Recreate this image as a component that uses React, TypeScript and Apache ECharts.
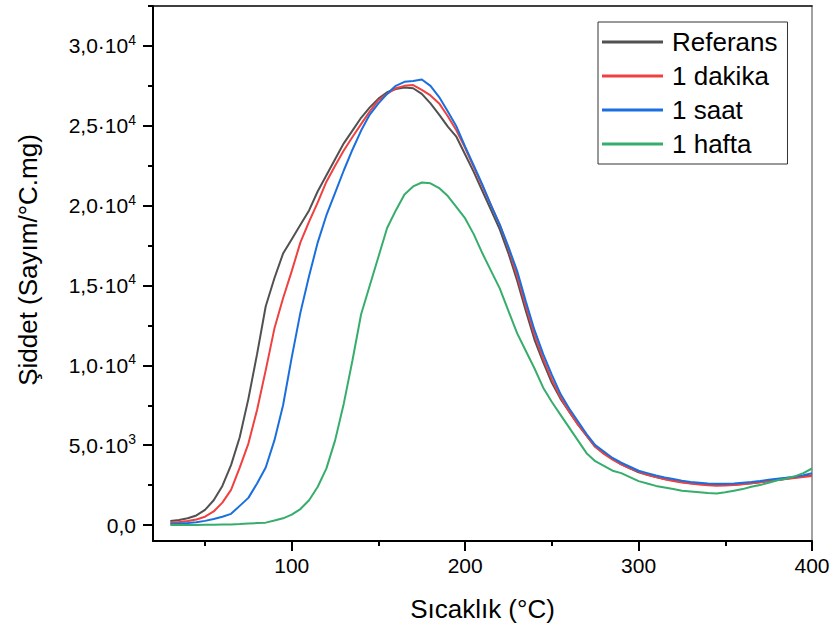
import React, { useEffect, useRef } from "react";
import * as echarts from "echarts";

const FONT = "'Liberation Sans', Arial, sans-serif";

const temperatures = [
  30, 35, 40, 45, 50, 55, 60, 65, 70, 75, 80, 85, 90, 95, 100, 105, 110, 115, 120, 125,
  130, 135, 140, 145, 150, 155, 160, 165, 170, 175, 180, 185, 190, 195, 200, 205, 210, 215, 220, 225,
  230, 235, 240, 245, 250, 255, 260, 265, 270, 275, 280, 285, 290, 295, 300, 305, 310, 315, 320, 325,
  330, 335, 340, 345, 350, 355, 360, 365, 370, 375, 380, 385, 390, 395, 400,
];

const referans = [
  250, 320, 420, 600, 950, 1550, 2450, 3750, 5500, 7900, 10700, 13700, 15450, 17000, 17900, 18800, 19700, 20900, 21900, 22900,
  23900, 24700, 25500, 26150, 26700, 27100, 27300, 27400, 27350, 27000, 26400, 25700, 24950, 24300, 23200, 22100, 20900, 19700, 18500, 17000,
  15300, 13400, 11600, 10200, 8900, 7900, 7100, 6300, 5600, 4900, 4500, 4150, 3800, 3550, 3300, 3150, 3000, 2880, 2780, 2700,
  2620, 2570, 2530, 2500, 2500, 2520, 2570, 2620, 2680, 2750, 2820, 2900, 2970, 3050, 3120,
];

const birDakika = [
  150, 190, 250, 350, 520, 850, 1400, 2200, 3600, 5100, 7200, 9700, 12300, 14200, 15900, 17700, 19000, 20200, 21500, 22500,
  23450, 24300, 25100, 25900, 26600, 27000, 27350, 27500, 27550, 27250, 26900, 26400, 25600, 24700, 23600, 22400, 21200, 20000, 18800, 17300,
  15600, 13700, 11900, 10400, 9100, 8000, 7100, 6300, 5600, 4900, 4450, 4100, 3800, 3550, 3350, 3150, 3000, 2870, 2750, 2670,
  2600, 2530, 2490, 2460, 2480, 2500, 2550, 2620, 2680, 2750, 2820, 2880, 2950, 3000, 3070,
];

const birSaat = [
  80, 100, 130, 180, 260, 380, 520, 700, 1200, 1700, 2600, 3600, 5300, 7500, 10500, 13300, 15600, 17700, 19400, 20800,
  22200, 23500, 24700, 25700, 26400, 27000, 27500, 27750, 27800, 27900, 27500, 26800, 25900, 24950, 23700, 22500, 21300, 20000, 18800, 17400,
  15900, 14000, 12200, 10700, 9400, 8200, 7300, 6500, 5700, 5000, 4600, 4200, 3900, 3650, 3400, 3250, 3100, 2980, 2880, 2780,
  2700, 2650, 2600, 2580, 2580, 2600, 2650, 2700, 2760, 2830, 2900, 2960, 3030, 3120, 3250,
];

const birHafta = [
  0, 0, 0, 0, 10, 20, 30, 40, 60, 90, 120, 150, 280, 420, 650, 1000, 1550, 2400, 3550, 5300,
  7600, 10300, 13200, 15000, 16800, 18600, 19700, 20700, 21200, 21450, 21400, 21100, 20600, 19900, 19200, 18200, 17000, 15900, 14800, 13400,
  12000, 10900, 9800, 8600, 7700, 6900, 6100, 5300, 4500, 4000, 3700, 3400, 3250, 3000, 2750, 2600, 2450, 2350, 2250, 2150,
  2100, 2050, 2000, 1980, 2050, 2150, 2250, 2400, 2500, 2650, 2800, 2900, 3050, 3250, 3540,
];

const seriesNames = ["Referans", "1 dakika", "1 saat", "1 hafta"];
const seriesColors = ["#515151", "#F14040", "#1A6FDF", "#37AD6B"];
const seriesValues = [referans, birDakika, birSaat, birHafta];

const xMajorTicks = [100, 200, 300, 400];
const xMinorTicks = [50, 150, 250, 350];
const yMajorTicks = [0, 5000, 10000, 15000, 20000, 25000, 30000];
const yMinorTicks = [2500, 7500, 12500, 17500, 22500, 27500, 32500];

const xTitle = "Sıcaklık (°C)";
const yTitle = "Şiddet (Sayım/°C.mg)";

function formatY(v: number): string {
  if (v === 0) return "0,0";
  const e = Math.floor(Math.log10(v));
  const m = (v / Math.pow(10, e)).toFixed(1).replace(".", ",");
  return `${m}·10{sup|${e}}`;
}

export default function App() {
  const ref = useRef<HTMLDivElement>(null);

  useEffect(() => {
    if (!ref.current) return;
    const chart = echarts.init(ref.current, undefined, { renderer: "svg" });
    const axisBase = { type: "value" as const, min: 20, max: 400, splitLine: { show: false } };
    const yBase = { type: "value" as const, min: -1000, max: 32500, splitLine: { show: false } };
    chart.setOption({
      animation: false,
      backgroundColor: "#ffffff",
      grid: { left: 153, right: 21, top: 6, bottom: 88, containLabel: false },
      legend: {
        orient: "vertical",
        left: 598,
        top: 22,
        padding: [3, 10, 3, 4],
        itemGap: 0,
        itemWidth: 61,
        itemHeight: 3,
        icon: "rect",
        backgroundColor: "#ffffff",
        borderColor: "#333333",
        borderWidth: 1,
        data: seriesNames,
        textStyle: { fontSize: 26, lineHeight: 34, color: "#000", fontFamily: FONT, padding: [0, 0, 0, 4] },
      },
      xAxis: [
        {
          ...axisBase,
          position: "bottom",
          name: xTitle,
          nameLocation: "middle",
          nameGap: 55,
          nameTextStyle: { fontSize: 26, color: "#000", fontFamily: FONT },
          axisLine: { show: true, onZero: false, lineStyle: { color: "#000", width: 2 } },
          axisTick: { show: true, length: 10, lineStyle: { color: "#000", width: 2 }, customValues: xMajorTicks },
          axisLabel: { show: true, customValues: xMajorTicks, fontSize: 21, color: "#000", fontFamily: FONT, margin: 14 },
        },
        {
          ...axisBase,
          position: "bottom",
          axisLine: { show: false, onZero: false },
          axisTick: { show: true, length: 5, lineStyle: { color: "#000", width: 2 }, customValues: xMinorTicks },
          axisLabel: { show: false },
        },
        {
          ...axisBase,
          position: "top",
          axisLine: { show: true, onZero: false, lineStyle: { color: "#000", width: 1.5 } },
          axisTick: { show: false },
          axisLabel: { show: false },
        },
      ],
      yAxis: [
        {
          ...yBase,
          position: "left",
          axisLine: { show: true, onZero: false, lineStyle: { color: "#000", width: 2 } },
          axisTick: { show: true, length: 10, lineStyle: { color: "#000", width: 2 }, customValues: yMajorTicks },
          axisLabel: {
            show: true,
            customValues: yMajorTicks,
            formatter: formatY,
            fontSize: 21,
            lineHeight: 26,
            color: "#000",
            fontFamily: FONT,
            margin: 17,
            rich: {
              sup: { fontSize: 14, lineHeight: 14, verticalAlign: "top", color: "#000", fontFamily: FONT },
            },
          },
        },
        {
          ...yBase,
          position: "left",
          axisLine: { show: false, onZero: false },
          axisTick: { show: true, length: 5, lineStyle: { color: "#000", width: 2 }, customValues: yMinorTicks },
          axisLabel: { show: false },
        },
        {
          ...yBase,
          position: "right",
          axisLine: { show: true, onZero: false, lineStyle: { color: "#808080", width: 1.5 } },
          axisTick: { show: false },
          axisLabel: { show: false },
        },
      ],
      graphic: [
        {
          type: "text",
          x: 28,
          y: 260,
          rotation: Math.PI / 2,
          style: {
            text: yTitle,
            fontSize: 26,
            fontFamily: FONT,
            fill: "#000",
            align: "center",
            verticalAlign: "middle",
          },
        },
      ],
      series: seriesNames.map((name, k) => ({
        name,
        type: "line",
        xAxisIndex: 0,
        yAxisIndex: 0,
        symbol: "none",
        showSymbol: false,
        color: seriesColors[k],
        lineStyle: { color: seriesColors[k], width: 2 },
        data: temperatures.map((t, i) => [t, seriesValues[k][i]]),
      })),
    });
    return () => chart.dispose();
  }, []);

  return (
    <div
      ref={ref}
      style={{ position: "absolute", left: 0, top: 0, width: 833, height: 629 }}
    />
  );
}
